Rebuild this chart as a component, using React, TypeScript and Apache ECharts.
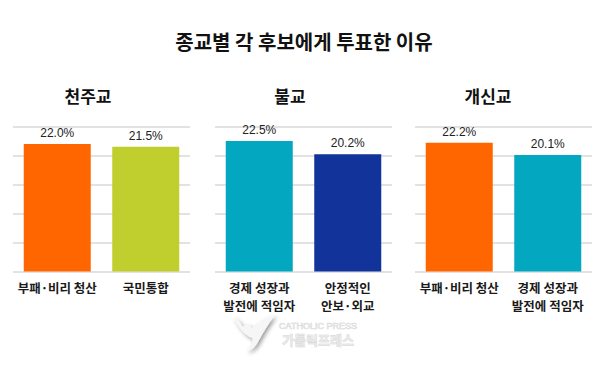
import React, { useEffect, useRef } from "react";
import * as echarts from "echarts";

const mainTitle = "종교별 각 후보에게 투표한 이유";
const religions = ["천주교", "불교", "개신교"];

const catholicCategories = ["부패·비리 청산", "국민통합"];
const catholicValues = [22.0, 21.5];
const catholicColors = ["#FF6600", "#C0CE2E"];

const buddhistCategories = ["경제 성장과\n발전에 적임자", "안정적인\n안보·외교"];
const buddhistValues = [22.5, 20.2];
const buddhistColors = ["#03A7BF", "#11339A"];

const protestantCategories = ["부패·비리 청산", "경제 성장과\n발전에 적임자"];
const protestantValues = [22.2, 20.1];
const protestantColors = ["#FF6600", "#03A7BF"];

const panels = [
  { cats: catholicCategories, vals: catholicValues, colors: catholicColors, left: 13, cx: 88 },
  { cats: buddhistCategories, vals: buddhistValues, colors: buddhistColors, left: 215, cx: 290 },
  { cats: protestantCategories, vals: protestantValues, colors: protestantColors, left: 415, cx: 488 },
];

const birdPath =
  "M0 2 C4 4 8 8 10 12 C14 10 18 10 20 14 C26 8 34 3 44 0 C38 8 32 18 27 27 C24 33 20 37 14 38 C20 33 22 28 20 24 C14 22 8 16 0 2 Z";

export default function App() {
  const ref = useRef<HTMLDivElement>(null);
  useEffect(() => {
    if (!ref.current) return;
    try {
      echarts.graphic.registerShape("bird", echarts.graphic.extendPath(birdPath, {}));
    } catch (e) {}
    const chart = echarts.init(ref.current, null, { renderer: "svg" });
    const font = "'Noto Sans CJK KR', sans-serif";
    const grids = panels.map((p) => ({ left: p.left, width: 177, top: 126.5, height: 145 }));
    const xAxes = panels.map((p, i) => ({
      type: "category",
      gridIndex: i,
      data: p.cats,
      axisLine: { show: false },
      axisTick: { show: false },
      axisLabel: {
        margin: 7,
        fontSize: 12.5,
        fontWeight: "bold",
        color: "#1a1a1a",
        fontFamily: font,
        lineHeight: 18,
        interval: 0,
      },
    }));
    const yAxes = panels.map((p, i) => ({
      type: "value",
      gridIndex: i,
      min: 0,
      max: 25,
      interval: 5,
      axisLabel: { show: false },
      axisLine: { show: false },
      axisTick: { show: false },
      splitLine: { lineStyle: { color: "#e2e2e2", width: 2 } },
    }));
    const series = panels.map((p, i) => ({
      type: "bar",
      xAxisIndex: i,
      yAxisIndex: i,
      barWidth: 67,
      data: p.vals.map((v, j) => ({ value: v, itemStyle: { color: p.colors[j] } })),
      label: {
        show: true,
        position: "top",
        distance: 5,
        formatter: (d: any) => d.value.toFixed(1) + "%",
        fontSize: 12,
        color: "#222",
        fontFamily: "'Liberation Sans', Arial, sans-serif",
      },
    }));
    const shadow = { shadowBlur: 4, shadowColor: "rgba(0,0,0,0.4)", shadowOffsetX: 2, shadowOffsetY: 2 };
    const graphic: any[] = [
      {
        type: "text",
        x: 304,
        y: 41,
        style: { text: mainTitle, fontSize: 20, fontWeight: "bold", fontFamily: font, fill: "#111", textAlign: "center", textVerticalAlign: "middle" },
      },
      ...panels.map((p, i) => ({
        type: "text",
        x: p.cx,
        y: 95,
        style: { text: religions[i], fontSize: 17, fontWeight: "bold", fontFamily: font, fill: "#111", textAlign: "center", textVerticalAlign: "middle" },
      })),
      {
        type: "bird",
        x: 233,
        y: 315,
        scaleX: 0.95,
        scaleY: 0.95,
        style: { fill: "#f6f6f6", ...shadow },
      },
      {
        type: "text",
        x: 318,
        y: 326,
        style: { text: "CATHOLIC PRESS", fontSize: 9, fontFamily: "'Liberation Sans', sans-serif", fill: "#e4e4e4", stroke: "#d2d2d2", lineWidth: 0.5, textAlign: "center", textVerticalAlign: "middle" },
      },
      {
        type: "text",
        x: 318,
        y: 339,
        style: { text: "가톨릭프레스", fontSize: 13, fontWeight: "bold", fontFamily: font, fill: "#e8e8e8", stroke: "#d0d0d0", lineWidth: 0.6, textAlign: "center", textVerticalAlign: "middle" },
      },
    ];
    chart.setOption({
      animation: false,
      backgroundColor: "#ffffff",
      grid: grids,
      xAxis: xAxes,
      yAxis: yAxes,
      series,
      graphic,
    } as any);
    return () => chart.dispose();
  }, []);
  return <div ref={ref} style={{ width: 600, height: 371, position: "absolute", left: 0, top: 0 }} />;
}
